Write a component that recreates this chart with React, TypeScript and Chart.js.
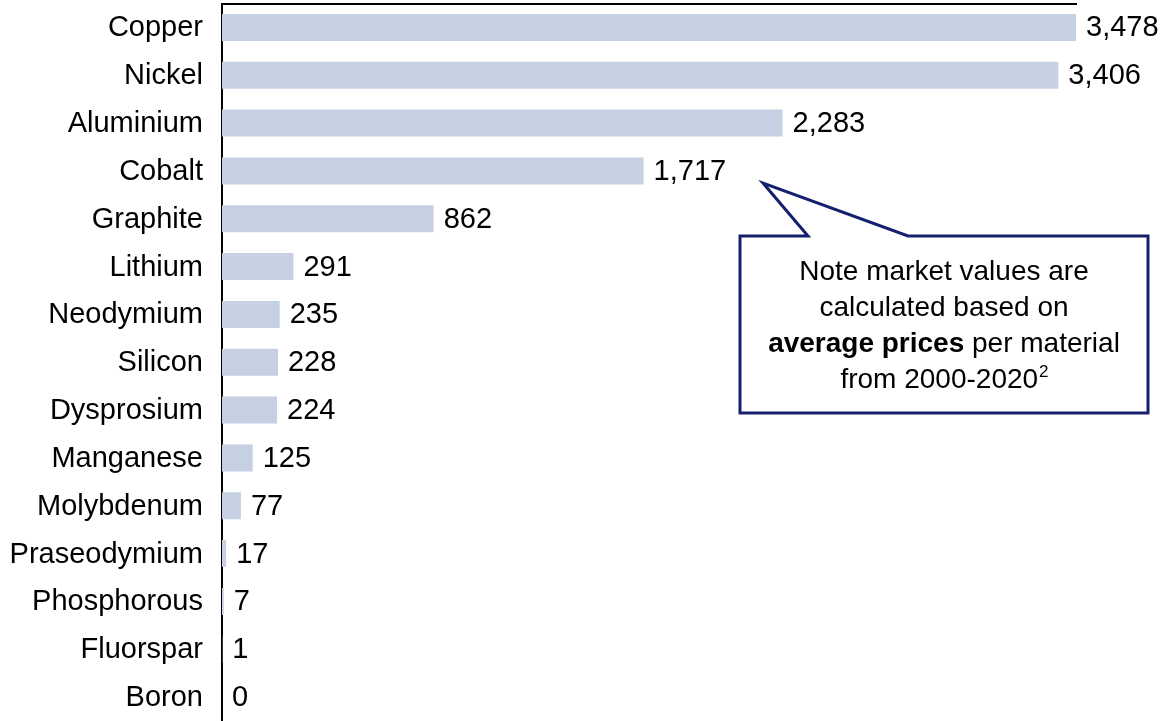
import React, { useEffect, useRef } from "react";
import { Chart, registerables } from "chart.js";

Chart.register(...registerables);

const categories = [
  "Copper",
  "Nickel",
  "Aluminium",
  "Cobalt",
  "Graphite",
  "Lithium",
  "Neodymium",
  "Silicon",
  "Dysprosium",
  "Manganese",
  "Molybdenum",
  "Praseodymium",
  "Phosphorous",
  "Fluorspar",
  "Boron",
];

const marketValues = [3478, 3406, 2283, 1717, 862, 291, 235, 228, 224, 125, 77, 17, 7, 1, 0];

const calloutLines = ["Note market values are", "calculated based on"];
const calloutBold = "average prices";
const calloutRest = " per material";
const calloutLast = "from 2000-2020";
const calloutSup = "2";

const FONT = "'Liberation Sans', Arial, Helvetica, sans-serif";

const valueLabelPlugin = {
  id: "valueLabels",
  afterDatasetsDraw(chart: any) {
    const ctx = chart.ctx;
    const meta = chart.getDatasetMeta(0);
    ctx.save();
    ctx.font = `29px ${FONT}`;
    ctx.fillStyle = "#000000";
    ctx.textAlign = "left";
    ctx.textBaseline = "middle";
    meta.data.forEach((bar: any, i: number) => {
      const v = marketValues[i];
      ctx.fillText(v.toLocaleString("en-US"), bar.x + 10, bar.y + 1);
    });
    ctx.restore();
  },
};

const calloutPlugin = {
  id: "callout",
  afterDraw(chart: any) {
    const ctx = chart.ctx;
    const left = 740;
    const top = 236;
    const right = 1148;
    const bottom = 413;
    const tipX = 763;
    const tipY = 183;
    const baseA = 808;
    const baseB = 908;
    ctx.save();
    ctx.beginPath();
    ctx.moveTo(left, top);
    ctx.lineTo(baseA, top);
    ctx.lineTo(tipX, tipY);
    ctx.lineTo(baseB, top);
    ctx.lineTo(right, top);
    ctx.lineTo(right, bottom);
    ctx.lineTo(left, bottom);
    ctx.closePath();
    ctx.fillStyle = "#ffffff";
    ctx.fill();
    ctx.lineWidth = 3;
    ctx.lineJoin = "miter";
    ctx.strokeStyle = "#14206e";
    ctx.stroke();

    const cx = (left + right) / 2;
    ctx.fillStyle = "#000000";
    ctx.textBaseline = "alphabetic";
    ctx.textAlign = "center";
    ctx.font = `28px ${FONT}`;
    ctx.fillText(calloutLines[0], cx, 280);
    ctx.fillText(calloutLines[1], cx, 316);

    ctx.textAlign = "left";
    ctx.font = `bold 28px ${FONT}`;
    const wb = ctx.measureText(calloutBold).width;
    ctx.font = `28px ${FONT}`;
    const wr = ctx.measureText(calloutRest).width;
    let x = cx - (wb + wr) / 2;
    ctx.font = `bold 28px ${FONT}`;
    ctx.fillText(calloutBold, x, 352);
    ctx.font = `28px ${FONT}`;
    ctx.fillText(calloutRest, x + wb, 352);

    const wl = ctx.measureText(calloutLast).width;
    ctx.font = `17px ${FONT}`;
    const ws = ctx.measureText(calloutSup).width;
    x = cx - (wl + ws) / 2;
    ctx.font = `28px ${FONT}`;
    ctx.fillText(calloutLast, x, 388);
    ctx.font = `17px ${FONT}`;
    ctx.fillText(calloutSup, x + wl + 1, 377);
    ctx.restore();
  },
};

export default function App() {
  const canvasRef = useRef<HTMLCanvasElement | null>(null);

  useEffect(() => {
    document.body.style.margin = "0";
    const canvas = canvasRef.current;
    if (!canvas) return;
    const chart = new Chart(canvas, {
      type: "bar",
      data: {
        labels: categories,
        datasets: [
          {
            data: marketValues,
            backgroundColor: "#c5d0e2",
            borderWidth: 0,
            barPercentage: 0.565,
            categoryPercentage: 1,
          },
        ],
      },
      options: {
        indexAxis: "y",
        animation: false,
        responsive: false,
        devicePixelRatio: 1,
        layout: { padding: { top: 3.5, right: 94, left: 0, bottom: -3 } },
        plugins: {
          legend: { display: false },
          tooltip: { enabled: false },
          title: { display: false },
        },
        scales: {
          x: {
            position: "top",
            min: 0,
            max: 3478,
            grid: { display: false, drawTicks: false },
            border: { display: true, color: "#000000", width: 2 },
            ticks: { display: false },
            afterFit(scale: any) {
              scale.height = 0;
              scale.paddingLeft = 0;
              scale.paddingRight = 0;
            },
          },
          y: {
            grid: { display: false, drawTicks: false },
            border: { display: true, color: "#000000", width: 2 },
            ticks: {
              color: "#000000",
              padding: 19,
              labelOffset: 1,
              font: { family: FONT, size: 29 },
              autoSkip: false,
            },
            afterFit(scale: any) {
              scale.width = 222;
              scale.paddingTop = 0;
              scale.paddingBottom = 0;
            },
          },
        },
      },
      plugins: [valueLabelPlugin, calloutPlugin],
    } as any);
    return () => chart.destroy();
  }, []);

  return (
    <div style={{ width: 1170, height: 721, overflow: "hidden" }}>
      <canvas ref={canvasRef} width={1170} height={721} style={{ display: "block" }} />
    </div>
  );
}
